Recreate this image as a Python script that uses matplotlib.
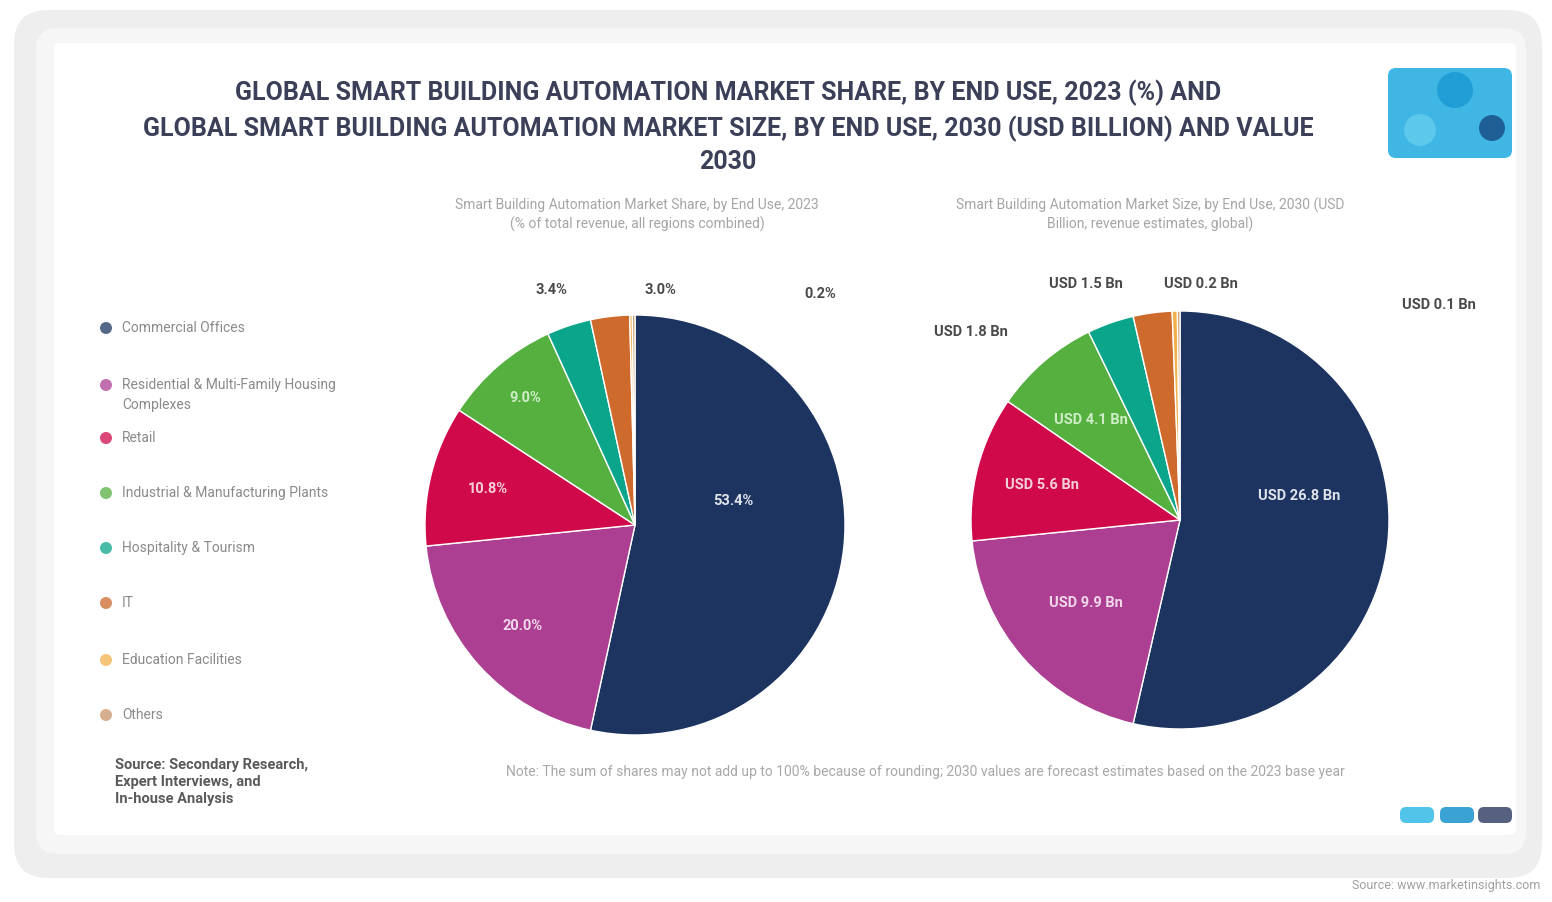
import numpy as np
import matplotlib
matplotlib.use("Agg")
import matplotlib.pyplot as plt
from matplotlib.patches import FancyBboxPatch, Circle

plt.rcParams['font.family'] = ['Roboto', 'DejaVu Sans']

# ---- data (values estimated) ----
segments = ["Commercial Offices", "Residential & Multi-Family Housing\nComplexes", "Retail",
            "Industrial & Manufacturing Plants", "Hospitality & Tourism", "IT",
            "Education Facilities", "Others"]
colors = ["#1d3461", "#ad3f93", "#d0094a", "#55b040", "#0aa58a", "#cd6a2c", "#f2b04a", "#c8956a"]
share_2023 = [53.4, 20.0, 10.8, 9.0, 3.4, 3.0, 0.2, 0.2]          # %
value_2030 = [26.8, 9.9, 5.6, 4.1, 1.8, 1.5, 0.2, 0.1]            # USD Bn

title = ("GLOBAL SMART BUILDING AUTOMATION MARKET SHARE, BY END USE, 2023 (%) AND\n"
         "GLOBAL SMART BUILDING AUTOMATION MARKET SIZE, BY END USE, 2030 (USD BILLION) AND VALUE\n"
         "2030")
sub_left = "Smart Building Automation Market Share, by End Use, 2023\n(% of total revenue, all regions combined)"
sub_right = "Smart Building Automation Market Size, by End Use, 2030 (USD\nBillion, revenue estimates, global)"
note = ("Note: The sum of shares may not add up to 100% because of rounding; 2030 values are forecast estimates "
        "based on the 2023 base year")
source_box = "Source: Secondary Research,\nExpert Interviews, and\nIn-house Analysis"
credit = "Source: www.marketinsights.com"

W, H = 1552, 902
fig = plt.figure(figsize=(W / 100, H / 100), dpi=100)
fig.patch.set_facecolor("white")

bg = fig.add_axes([0, 0, 1, 1])
bg.set_xlim(0, W)
bg.set_ylim(H, 0)
bg.axis("off")

# card frame
bg.add_patch(FancyBboxPatch((14, 10), 1528, 868, boxstyle="round,pad=0,rounding_size=34",
                            fc="#eeeeee", ec="none"))
bg.add_patch(FancyBboxPatch((36, 28), 1490, 826, boxstyle="round,pad=0,rounding_size=22",
                            fc="#f6f6f6", ec="none"))
bg.add_patch(FancyBboxPatch((54, 43), 1462, 792, boxstyle="round,pad=0,rounding_size=6",
                            fc="white", ec="none"))

bg.text(728, 127, title, ha="center", va="center", fontsize=18, fontweight="bold",
        color="#3b4058", linespacing=1.45)
bg.text(637, 215, sub_left, ha="center", va="center", fontsize=10, color="#a5a5a5", linespacing=1.35)
bg.text(1150, 215, sub_right, ha="center", va="center", fontsize=10, color="#a5a5a5", linespacing=1.35)
bg.text(925, 772, note, ha="center", va="center", fontsize=10, color="#a8a8a8")
bg.text(115, 782, source_box, ha="left", va="center", fontsize=10.5, fontweight="bold",
        color="#5a5a5a", linespacing=1.25)
bg.text(1540, 886, credit, ha="right", va="center", fontsize=9, color="#a0a0a0")

# logo top-right
bg.add_patch(FancyBboxPatch((1388, 68), 124, 90, boxstyle="round,pad=0,rounding_size=8",
                            fc="#3fb6e3", ec="none"))
bg.add_patch(Circle((1455, 90), 18, fc="#1f9fd6", ec="none"))
bg.add_patch(Circle((1420, 130), 16, fc="#5cc8ec", ec="none"))
bg.add_patch(Circle((1492, 128), 13, fc="#1f5f95", ec="none"))
# small logo bottom-right
for x0, c in zip([1400, 1440, 1478], ["#52c4ea", "#3aa3d4", "#56607f"]):
    bg.add_patch(FancyBboxPatch((x0, 807), 34, 16, boxstyle="round,pad=0,rounding_size=6",
                                fc=c, ec="none"))

# legend
leg_y = [328, 385, 438, 493, 548, 603, 660, 715]
for y, lab, c in zip(leg_y, segments, colors):
    bg.add_patch(Circle((106, y), 6, fc=c, ec="none", alpha=0.75))
    bg.text(122, y - 7 if "\n" in lab else y, lab, ha="left", va="top" if "\n" in lab else "center",
            fontsize=10, color="#8a8a8a", linespacing=1.5)


def draw_pie(cx, cy, r, vals, fmt, inner_pos, outer_pos, inner_color):
    ax = fig.add_axes([(cx - r) / W, 1 - (cy + r) / H, 2 * r / W, 2 * r / H])
    wedges, _ = ax.pie(vals, colors=colors, startangle=90, counterclock=False,
                       wedgeprops=dict(edgecolor="white", linewidth=1.0))
    ax.set_xlim(-1, 1)
    ax.set_ylim(-1, 1)
    ax.set_aspect("auto")
    ax.axis("off")
    for i, (w, v) in enumerate(zip(wedges, vals)):
        mid = (w.theta1 + w.theta2) / 2
        if i in inner_pos:
            rr, dth = inner_pos[i]
            a = np.deg2rad(mid + dth)
            ax.text(rr * np.cos(a), rr * np.sin(a), fmt(v), ha="center", va="center",
                    fontsize=10.5, fontweight="bold", color=inner_color[i])
        elif i in outer_pos:
            px, py = outer_pos[i]
            ax.text(px, py, fmt(v), ha="center", va="center", fontsize=10.5,
                    fontweight="bold", color="#4a4a4a", clip_on=False)
    return ax


white = {0: "#dfe3ea", 1: "#f0d8ea", 2: "#f5d0dc", 3: "#cfeec8"}
draw_pie(635, 525, 210, share_2023, lambda v: f"{v:.1f}%",
         {0: (0.48, 20), 1: (0.72, 0), 2: (0.72, 0), 3: (0.8, 0)},
         {4: (-0.40, 1.12), 5: (0.12, 1.12), 7: (0.88, 1.1)}, white)
draw_pie(1180, 520, 209, value_2030, lambda v: f"USD {v:.1f} Bn",
         {0: (0.58, 18), 1: (0.6, 0), 2: (0.68, 0), 3: (0.64, 1)},
         {4: (-1.0, 0.9), 5: (-0.45, 1.13), 6: (0.10, 1.13), 7: (1.24, 1.03)}, white)

fig.savefig("out.png", dpi=100)
